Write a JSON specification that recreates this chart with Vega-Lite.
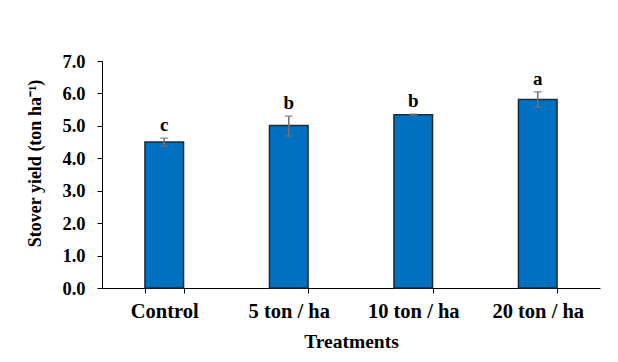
{
  "$schema": "https://vega.github.io/schema/vega-lite/v6.json",
  "autosize": {"type": "none"},
  "width": 498,
  "height": 227,
  "padding": {"left": 102, "top": 61, "right": 18, "bottom": 74},
  "background": "white",
  "config": {
    "view": {"stroke": null},
    "font": "Liberation Serif",
    "axis": {
      "labelFont": "Liberation Serif",
      "titleFont": "Liberation Serif",
      "labelFontWeight": "bold",
      "titleFontWeight": "bold",
      "labelColor": "#000000",
      "titleColor": "#000000",
      "domainColor": "#000000",
      "tickColor": "#000000",
      "labelFlush": false,
      "grid": false
    },
    "axisY": {
      "tickCount": 8,
      "labelOverlap": false,
      "labelFontSize": 18.5,
      "titleFontSize": 18,
      "titleY": 102,
      "format": ".1f",
      "tickSize": 5,
      "labelPadding": 12,
      "titlePadding": 17
    }
  },
  "data": {
    "values": [
      {"treatment": "Control", "yield": 4.50, "lo": 4.37, "hi": 4.62, "letter": "c"},
      {"treatment": "5 ton / ha", "yield": 5.01, "lo": 4.69, "hi": 5.30, "letter": "b"},
      {"treatment": "10 ton / ha", "yield": 5.34, "lo": 5.32, "hi": 5.36, "letter": "b"},
      {"treatment": "20 ton / ha", "yield": 5.81, "lo": 5.58, "hi": 6.05, "letter": "a"}
    ]
  },
  "encoding": {
    "x": {
      "field": "treatment",
      "type": "nominal",
      "sort": null,
      "scale": {"paddingInner": 0.69, "paddingOuter": 0.345},
      "axis": {
        "title": "Treatments",
        "labelAngle": 0,
        "labelOverlap": false,
        "labelFontSize": 20.5,
        "titleFontSize": 19.5,
        "tickBand": "extent",
        "tickSize": 5,
        "labelPadding": 8,
        "titlePadding": 11
      }
    }
  },
  "layer": [
    {
      "mark": {"type": "bar", "color": "#0070C0", "stroke": "#1c2a3a", "strokeWidth": 1.5},
      "encoding": {
        "y": {
          "field": "yield",
          "type": "quantitative",
          "scale": {"domain": [0, 7], "nice": false},
          "axis": {
            "title": "Stover yield (ton ha⁻¹)",
            "values": [0, 1, 2, 3, 4, 5, 6, 7]
          }
        }
      }
    },
    {
      "mark": {"type": "rule", "color": "#707070", "strokeWidth": 1.5},
      "encoding": {
        "y": {"field": "lo", "type": "quantitative"},
        "y2": {"field": "hi"}
      }
    },
    {
      "mark": {"type": "tick", "color": "#707070", "size": 8, "thickness": 1.5},
      "encoding": {"y": {"field": "lo", "type": "quantitative"}}
    },
    {
      "mark": {"type": "tick", "color": "#707070", "size": 8, "thickness": 1.5},
      "encoding": {"y": {"field": "hi", "type": "quantitative"}}
    },
    {
      "mark": {"type": "text", "baseline": "bottom", "dy": -3, "fontSize": 19, "fontWeight": "bold", "font": "Liberation Serif", "color": "#000000"},
      "encoding": {
        "y": {"field": "hi", "type": "quantitative"},
        "text": {"field": "letter"}
      }
    }
  ]
}
